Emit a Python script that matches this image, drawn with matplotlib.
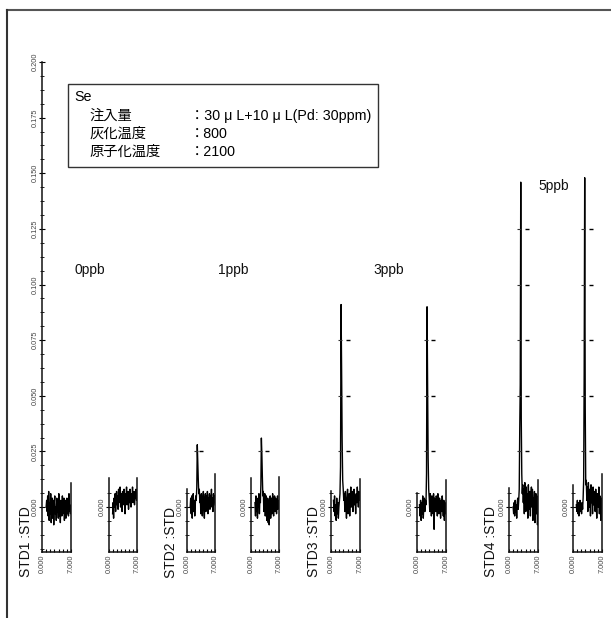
import numpy as np
import matplotlib.pyplot as plt
from matplotlib.lines import Line2D
from matplotlib.patches import Rectangle

plt.rcParams['font.family'] = ['Liberation Sans', 'Noto Sans CJK JP', 'DejaVu Sans']

W, H = 611, 618

# absorbance traces, in 0.001 Abs, sampled evenly from start time to 7.000
trace1 = [0, 3, -2, 5, -4, 7, -6, 2, -3, 6, -7, 1, 4, -5, 3, -8, 2, 5, -3, 0,
          -6, 4, -2, 3, -5, 6, -4, 1, -7, 3, 2, -4, 5, -3, -1, 4, -6, 2, 3, -5,
          1, 4, -3, 2, -4, 6, -2, 1, -3, 0]
trace2 = [-3, 2, -5, 4, 0, 6, -2, 3, 7, 1, 5, -1, 8, 2, 4, 9, 0, 6, 3, -2,
          7, 1, 5, 8, 2, -3, 6, 4, 9, 1, 3, 7, -1, 5, 2, 8, 4, 0, 6, 3,
          9, 2, 5, 7, 1, 6, 4, 8, 3, 5]
trace3 = [0, 4, -3, 5, -5, 2, 6, -2, 3, -4, 1, 5, 3, 9, 28, 20, 12, 6, 8, 2,
          5, -3, 6, 1, -4, 4, 7, 0, -5, 3, 6, -2, 5, 1, 7, -3, 4, 2, 6, -1,
          5, 3, 8, 0, 4, -2, 6, 2, 5, 1]
trace4 = [2, -4, 5, -2, 4, -5, 3, 0, 6, -3, 4, 2, 10, 31, 24, 14, 5, 7, -2, 3,
          6, -4, 2, 5, -6, 1, 4, -7, 3, -8, 2, 5, -5, 1, 4, -3, 6, 0, -4, 3,
          5, -2, 4, 1, -3, 2, 5, -1, 3, 0]
trace5 = [3, -2, 5, -4, 1, -6, 4, -3, 2, -5, 0, 3, 6, 18, 91, 62, 30, 12, 8, 3,
          6, -2, 7, 1, -5, 4, 8, -3, 2, 6, -4, 5, 9, 0, 3, 7, -2, 4, 8, 1,
          5, -3, 6, 2, 9, 4, 0, 7, 3, 5]
trace6 = [1, -4, 3, -6, 2, -3, 5, -5, 0, 4, -2, 3, 1, 15, 90, 55, 22, 8, 4, -2,
          6, 3, -4, 5, 2, -3, 6, -10, 4, 1, -2, 5, 3, -4, 6, 0, -3, 4, 2, -5,
          3, -2, 5, 1, -4, 3, -6, 2, 0, -3]
trace7 = [0, -3, 2, -4, 3, -2, 1, -5, 2, 4, -1, 3, 8, 35, 55, 146, 40, 15, 6, 10,
          2, 8, -3, 11, 4, -2, 9, 1, 6, -5, 10, 3, -1, 7, -4, 5, 9, 0, 8, -6,
          4, 2, 7, -7, 3, 6, -3, 5, -8, 2]
trace8 = [1, -2, 3, -3, 2, -4, 0, 3, -2, 1, -3, 2, -1, 4, 12, 60, 148, 45, 10, 12,
          3, 9, -2, 11, 5, 0, 8, -4, 10, 2, 6, -3, 9, 1, 5, 7, -2, 8, 3, -5,
          6, 4, 0, 9, -3, 5, 2, -6, 4, 1]
traces = [trace1, trace2, trace3, trace4, trace5, trace6, trace7, trace8]
trace_start = [1.0, 0.9, 0.8, 1.0, 0.6, 0.6, 1.0, 0.8]

# small scale marks drawn beside the peaks
mark_levels = [[], [], [0.025], [0.025],
               [0.025, 0.050, 0.075], [0.025, 0.050, 0.075],
               [0.025, 0.050, 0.075, 0.100, 0.125], [0.025, 0.050, 0.075, 0.100, 0.125]]
mark_x_right = [0, 0, 3.6, 4.0, 4.0, 3.9, 4.3, 4.3]
mark_x_left = [0, 0, 2.3, 2.3, 2.1, 2.1, 2.4, 2.5]

std_labels = ['STD1 :STD', 'STD2 :STD', 'STD3 :STD', 'STD4 :STD']
conc_labels = ['0ppb', '1ppb', '3ppb', '5ppb']
big_ticks = [0.0, 0.025, 0.05, 0.075, 0.1, 0.125, 0.15, 0.175, 0.2]

info_title = 'Se'
info_keys = ['注入量', '灰化温度', '原子化温度']
info_vals = ['30 μ L+10 μ L(Pd: 30ppm)', '800', '2100']

# layout (pixels)
panel_left = [42, 109, 187, 251, 331, 417, 509, 573]
panel_right = [71, 137, 215, 279, 360, 446, 538, 602]
left_top = [0.2, 0.013, 0.008, 0.013, 0.0073, 0.0063, 0.0086, 0.0099]
right_top = [0.011, 0.013, 0.015, 0.0135, 0.0126, 0.012, 0.012, 0.015]
ybot, ytop = 552, 62
ymin, ymax = -0.0202, 0.2

fig = plt.figure(figsize=(W / 100, H / 100), dpi=100)


def fx(x):
    return x / W


def fy(y):
    return 1 - y / H


tick_font = 5.3
for i in range(8):
    L, R = panel_left[i], panel_right[i]
    ax = fig.add_axes([fx(L), fy(ybot), (R - L) / W, (ybot - ytop) / H])
    ax.set_xlim(0, 7)
    ax.set_ylim(ymin, ymax)
    ax.patch.set_visible(False)
    ax.spines['top'].set_visible(False)
    ax.spines['left'].set_bounds(ymin, left_top[i])
    ax.spines['right'].set_bounds(ymin, right_top[i])
    for s in ['left', 'right', 'bottom']:
        ax.spines[s].set_linewidth(1.1)
        ax.spines[s].set_color('#111111')

    y = np.array(traces[i]) / 1000
    x = np.linspace(trace_start[i], 7, len(y))
    ax.plot(x, y, color='black', lw=1.0)

    lv = mark_levels[i]
    if lv:
        ax.plot([mark_x_right[i]] * len(lv), lv, ls='none', marker='_', ms=3.5,
                mew=1, color='black')
        ax.plot([mark_x_left[i]] * len(lv), lv, ls='none', marker='_', ms=3,
                mew=0.8, color='#333333')

    ax.set_xticks([0, 7])
    ax.set_xticklabels(['0.000', '7.000'], rotation=90, fontsize=tick_font,
                       color='#444444')
    ax.set_xticks(range(1, 7), minor=True)
    ax.tick_params(axis='x', which='both', direction='in', length=2, width=0.8,
                   pad=2)

    if i == 0:
        ax.set_yticks(big_ticks)
        ax.set_yticklabels(['%.3f' % t for t in big_ticks], rotation=90,
                           va='center', fontsize=tick_font, color='#444444')
        ax.set_yticks(np.arange(-0.01875, 0.2, 0.00625), minor=True)
    else:
        ax.set_yticks([0.0])
        ax.set_yticklabels(['0.000'], rotation=90, va='center',
                           fontsize=tick_font, color='#444444')
        ax.set_yticks([t for t in [-0.0125, -0.00625, 0.00625] if t < left_top[i]],
                      minor=True)
    ax.tick_params(axis='y', which='major', direction='inout', length=4,
                   width=0.8, pad=0.5)
    ax.tick_params(axis='y', which='minor', direction='inout', length=2.5,
                   width=0.6)

# sample labels
std_x = [26, 171, 314, 491]
for lab, xx in zip(std_labels, std_x):
    fig.text(fx(xx), fy(542), lab, rotation=90, ha='center', va='center',
             fontsize=10, color='#111111')

conc_pos = [(90, 270), (233, 270), (389, 270), (554, 186)]
for lab, (xx, yy) in zip(conc_labels, conc_pos):
    fig.text(fx(xx), fy(yy), lab, ha='center', va='center', fontsize=10,
             color='#111111')

# info box
fig.add_artist(Rectangle((fx(68), fy(167)), 310 / W, 83 / H,
                         transform=fig.transFigure, fill=False,
                         edgecolor='#333333', lw=1))
fig.text(fx(74), fy(97), info_title, ha='left', va='center', fontsize=10.3)
for k, (key, val) in enumerate(zip(info_keys, info_vals)):
    yy = 116 + 18 * k
    fig.text(fx(89), fy(yy), key, ha='left', va='center', fontsize=10.3)
    fig.text(fx(190), fy(yy), '：' + val, ha='left', va='center', fontsize=10.3)

# outer frame
fig.add_artist(Line2D([fx(7), 1], [fy(10), fy(10)], transform=fig.transFigure,
                      color='#555555', lw=1.5))
fig.add_artist(Line2D([fx(7), fx(7)], [fy(10), 0], transform=fig.transFigure,
                      color='#333333', lw=1.5))

fig.savefig('out.png', dpi=100)
